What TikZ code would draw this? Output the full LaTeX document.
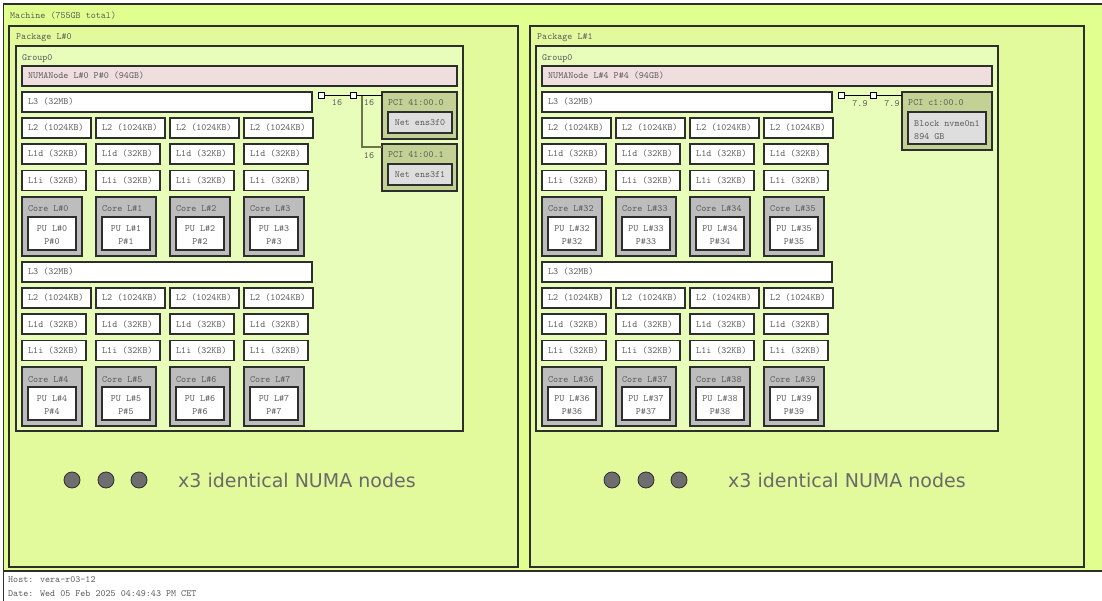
\documentclass[tikz,border=0pt]{standalone}
\usepackage{fontspec}
\usetikzlibrary{calc}
\newfontfamily\sansf{DejaVu Sans}
\definecolor{machinefill}{HTML}{E0FF8E}
\definecolor{pkgfill}{HTML}{E2F99C}
\definecolor{groupfill}{HTML}{E8FDBA}
\definecolor{numafill}{HTML}{EFDEDE}
\definecolor{corefill}{HTML}{BDBDBD}
\definecolor{pcifill}{HTML}{C3D294}
\definecolor{devfill}{HTML}{DEDEDE}
\definecolor{edge}{HTML}{2E2E2E}
\definecolor{ink}{HTML}{5A5A5A}
\definecolor{branch}{HTML}{6E7548}
\definecolor{dotfill}{HTML}{6E6E6E}
\definecolor{dotink}{HTML}{6A6A6A}

% one L3 domain: L3, four L2/L1d/L1i columns, four cores with one PU each
% #1 name tag, #2 x offset, #3 y offset, #4 first core number
\newcommand\cacheblock[4]{%
  \node[box,fill=white,minimum width=290pt,minimum height=20pt] (l3#1) at ({22+#2},{92+#3}) {};
  \node[lbl] at ({28+#2},{105+#3}) {L3 (32MB)};
  \foreach \i in {0,...,3}{
    \pgfmathsetmacro\xx{22+74*\i+#2}
    \pgfmathtruncatemacro\cn{#4+\i}
    \node[box,fill=white,minimum width=69pt,minimum height=20pt] (l2#1\i) at (\xx,{118+#3}) {};
    \node[lbl] at ({\xx+6},{131+#3}) {L2 (1024KB)};
    \node[box,fill=white,minimum width=64pt,minimum height=20pt] (l1d#1\i) at (\xx,{144+#3}) {};
    \node[lbl] at ({\xx+6},{157+#3}) {L1d (32KB)};
    \node[box,fill=white,minimum width=64pt,minimum height=20pt] (l1i#1\i) at (\xx,{170.5+#3}) {};
    \node[lbl] at ({\xx+6},{183.5+#3}) {L1i (32KB)};
    \node[box,fill=corefill,minimum width=60pt,minimum height=59pt] (core#1\i) at (\xx,{197+#3}) {};
    \node[lbl] at ({\xx+6},{212+#3}) {Core L\#\cn};
    \node[box,fill=white,minimum width=48pt,minimum height=33pt] (pu#1\i) at ({\xx+6},{217+#3}) {};
    \node[clbl] at ({\xx+30},{231.75+#3}) {PU L\#\cn};
    \node[clbl] at ({\xx+30},{244.75+#3}) {P\#\cn};
  }%
}

\begin{document}
\begin{tikzpicture}[x=1pt,y=-1pt,
  box/.style={draw=edge,line width=1.2pt,anchor=north west,inner sep=0pt,outer sep=0pt},
  lbl/.style={anchor=base west,inner sep=0pt,text=ink,font=\ttfamily\fontsize{9.6}{11}\selectfont},
  clbl/.style={lbl,anchor=base},
  port/.style={draw=black,fill=white,line width=0.8pt,minimum size=6pt,inner sep=0pt,anchor=center},
  link/.style={draw=black,line width=0.9pt},
  tap/.style={draw=branch,line width=1.5pt},
  dot/.style={circle,draw=edge,line width=0.8pt,fill=dotfill,minimum size=16pt,inner sep=0pt},
  reptxt/.style={anchor=west,inner sep=0pt,text=dotink,font=\sansf\fontsize{19}{22}\selectfont}]
\useasboundingbox (0,0) rectangle (1102,601);
\clip (0,0) rectangle (1102,601);
\fill[white] (0,0) rectangle (1102,601);

% machine and footer
\node[box,fill=machinefill,minimum width=1110pt,minimum height=567pt] (machine) at (3.5,4) {};
\draw[edge,line width=1pt] (machine.south west) -- ++(0,40);
\node[lbl] at (10,19) {Machine (755GB total)};
\node[lbl] (host) at (8,582.75) {Host: vera-r03-12};
\node[lbl] (date) at (8,596.75) {Date: Wed 05 Feb 2025 04:49:43 PM CET};

% packages
\node[box,fill=pkgfill,minimum width=509pt,minimum height=541pt] (pkg0) at (9,26) {};
\node[lbl] at (16,40) {Package L\#0};
\node[box,fill=pkgfill,minimum width=554pt,minimum height=541pt] (pkg1) at (530,26) {};
\node[lbl] at (537,40) {Package L\#1};

% groups
\node[box,fill=groupfill,minimum width=447pt,minimum height=385pt] (grp0) at (16,46) {};
\node[lbl] at (22,60.5) {Group0};
\node[box,fill=groupfill,minimum width=462pt,minimum height=385pt] (grp1) at (536,46) {};
\node[lbl] at (542,60.5) {Group0};

% NUMA nodes
\node[box,fill=numafill,minimum width=435pt,minimum height=20pt] (numa0) at (22,66) {};
\node[lbl] at (28,79) {NUMANode L\#0 P\#0 (94GB)};
\node[box,fill=numafill,minimum width=450pt,minimum height=20pt] (numa1) at (542,66) {};
\node[lbl] at (548,79) {NUMANode L\#4 P\#4 (94GB)};

% caches and cores
\cacheblock{a}{0}{0}{0}
\cacheblock{b}{0}{170}{4}
\cacheblock{c}{520}{0}{32}
\cacheblock{d}{520}{170}{36}

% PCI devices of package 0
\node[port] (sw0a) at (321,95) {};
\node[port] (sw0b) at (353,95) {};
\node[box,fill=pcifill,minimum width=75pt,minimum height=47pt] (pci0) at (382,92) {};
\node[lbl] at (388,105.75) {PCI 41:00.0};
\node[box,fill=devfill,minimum width=64pt,minimum height=21pt] (net0) at (388,112) {};
\node[clbl] at (420,125.5) {Net ens3f0};
\node[box,fill=pcifill,minimum width=75pt,minimum height=47pt] (pci1) at (382,144) {};
\node[lbl] at (388,158) {PCI 41:00.1};
\node[box,fill=devfill,minimum width=64pt,minimum height=21pt] (net1) at (388,164) {};
\node[clbl] at (420,177.5) {Net ens3f1};
\coordinate (tap0) at (362,95);
\coordinate (pci1in) at ($(pci1.north west)+(0,3)$);
\draw[tap] (tap0) |- (pci1in);
\draw[link] (sw0a) -- (sw0b);
\draw[link] (sw0b) -- (sw0b -| pci0.west);
\node[clbl] at (337,105.75) {16};
\node[clbl] at (369,105.75) {16};
\node[clbl] at (369,158.75) {16};

% PCI device of package 1
\node[port] (sw1a) at (841,95) {};
\node[port] (sw1b) at (873,95) {};
\node[box,fill=pcifill,minimum width=90pt,minimum height=58pt] (pci2) at (902,92) {};
\node[lbl] at (908,105.75) {PCI c1:00.0};
\node[box,fill=devfill,minimum width=78pt,minimum height=32pt] (blk0) at (908,112) {};
\node[lbl] at (914,126.75) {Block nvme0n1};
\node[lbl] at (914,139.75) {894 GB};
\draw[link] (sw1a) -- (sw1b);
\draw[link] (sw1b) -- (sw1b -| pci2.west);
\node[clbl] at (860,106.75) {7.9};
\node[clbl] at (892,106.75) {7.9};

% elided NUMA nodes
\node[dot] (e0a) at (72,480) {};
\node[dot] (e0b) at (106,480) {};
\node[dot] (e0c) at (139,480) {};
\node[reptxt] (rep0) at (178,480) {x3 identical NUMA nodes};
\node[dot] (e1a) at (612,480) {};
\node[dot] (e1b) at (646,480) {};
\node[dot] (e1c) at (679,480) {};
\node[reptxt] (rep1) at (728,480) {x3 identical NUMA nodes};
\end{tikzpicture}
\end{document}
